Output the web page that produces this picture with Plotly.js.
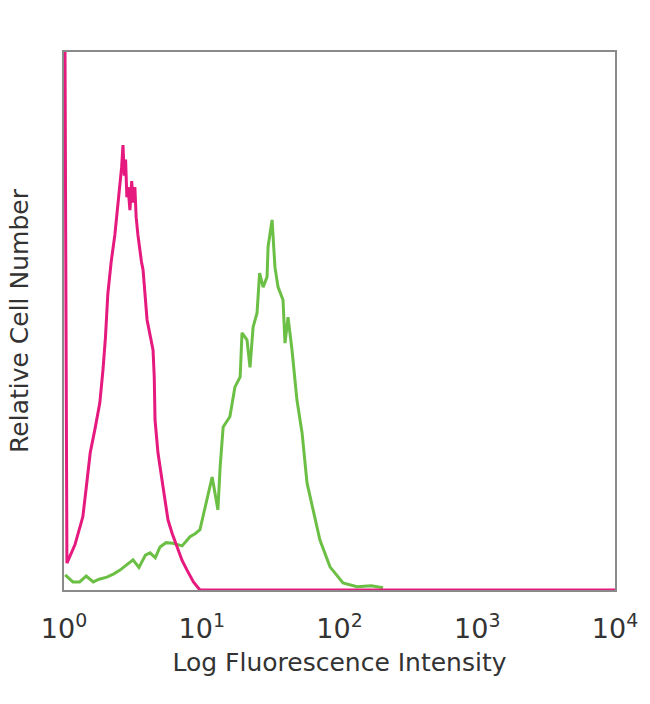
<!DOCTYPE html>
<html>
<head>
<meta charset="utf-8">
<script src="https://cdn.plot.ly/plotly-3.0.1.min.js"></script>
<style>html,body{margin:0;padding:0;background:#fff;}#chart{width:650px;height:704px;}</style>
</head>
<body>
<div id="chart"></div>
<script>
// Isotype control (pink)
var controlX = [1.00, 1.05, 1.20, 1.37, 1.45, 1.55, 1.68, 1.82, 1.92, 2.00, 2.08, 2.20, 2.34, 2.45, 2.55, 2.62, 2.68, 2.74, 2.80, 2.86, 2.92, 3.01, 3.10, 3.18, 3.27, 3.34, 3.44, 3.56, 3.65, 3.75, 3.88, 4.01, 4.43, 4.52, 4.58, 4.81, 5.24, 5.69, 6.10, 6.61, 7.20, 7.82, 8.70, 9.70, 10000];
var controlY = [150, 5.0, 8.4, 13.6, 19, 25.5, 30, 34.8, 41, 47, 55, 61, 66, 71.2, 75.5, 78.6, 82.7, 77, 80, 73, 74.9, 70.6, 76, 72, 74.9, 69.3, 66, 62.6, 61, 59.5, 55, 50.2, 44.6, 39.6, 31.6, 25.5, 19.1, 13.0, 10.5, 8.0, 5.5, 3.7, 1.5, 0, 0];
// Stained sample (green)
var stainedX = [1.02, 1.16, 1.30, 1.45, 1.63, 1.80, 2.05, 2.30, 2.55, 2.80, 3.17, 3.50, 3.90, 4.21, 4.60, 4.98, 5.50, 6.18, 7.20, 8.22, 9.00, 9.70, 11.1, 11.9, 13.1, 13.6, 14.3, 16.0, 17.4, 19.0, 19.6, 21.3, 22.4, 23.6, 25.2, 26.3, 27.9, 29.8, 30.3, 32.4, 34.0, 35.8, 38.9, 40.2, 42.3, 45.2, 49.1, 53.5, 58.1, 64.3, 72.1, 85.3, 106, 134, 170, 207];
var stainedY = [2.8, 1.5, 1.5, 2.6, 1.5, 2.0, 2.4, 3.0, 3.7, 4.5, 5.6, 4.2, 6.5, 6.9, 6.0, 8.0, 8.8, 8.7, 8.2, 9.9, 10.5, 11.2, 18.0, 21.0, 14.9, 22.9, 30.3, 32.2, 37.7, 39.6, 47.8, 46.5, 41.4, 48.9, 51.5, 58.9, 56.3, 58.2, 63.8, 68.8, 60.0, 56.3, 53.9, 45.9, 50.7, 44.6, 35.3, 29.2, 19.9, 14.9, 9.3, 4.3, 1.3, 0.6, 0.8, 0.4];
var tickVals = [1, 10, 100, 1000, 10000];
var tickText = ['10<sup>0</sup>', '10<sup>1</sup>', '10<sup>2</sup>', '10<sup>3</sup>', '10<sup>4</sup>'];

var font = 'DejaVu Sans, Verdana, sans-serif';
var traces = [
  {x: stainedX, y: stainedY, type: 'scatter', mode: 'lines', line: {color: '#6cbf45', width: 3}, hoverinfo: 'skip'},
  {x: controlX, y: controlY, type: 'scatter', mode: 'lines', line: {color: '#e5197e', width: 3}, hoverinfo: 'skip'}
];
var layout = {
  width: 650, height: 704,
  margin: {l: 64, r: 35, t: 52, b: 114},
  paper_bgcolor: '#fff', plot_bgcolor: '#fff',
  showlegend: false,
  font: {family: font, color: '#333'},
  xaxis: {
    type: 'log', range: [0, 4],
    tickvals: tickVals, ticktext: tickText,
    ticks: '', showgrid: false, zeroline: false,
    showline: true, mirror: true, linecolor: '#8a8a8a', linewidth: 2,
    ticklabelstandoff: 14,
    tickfont: {size: 27, color: '#333', family: font},
    title: {text: 'Log Fluorescence Intensity', font: {size: 25, color: '#333', family: font}, standoff: 10}
  },
  yaxis: {
    range: [0, 100],
    showticklabels: false, ticks: '', showgrid: false, zeroline: false,
    showline: true, mirror: true, linecolor: '#8a8a8a', linewidth: 2,
    title: {text: 'Relative Cell Number', font: {size: 25, color: '#333', family: font}, standoff: 26}
  }
};
Plotly.newPlot('chart', traces, layout, {staticPlot: true, displayModeBar: false});
</script>
</body>
</html>
